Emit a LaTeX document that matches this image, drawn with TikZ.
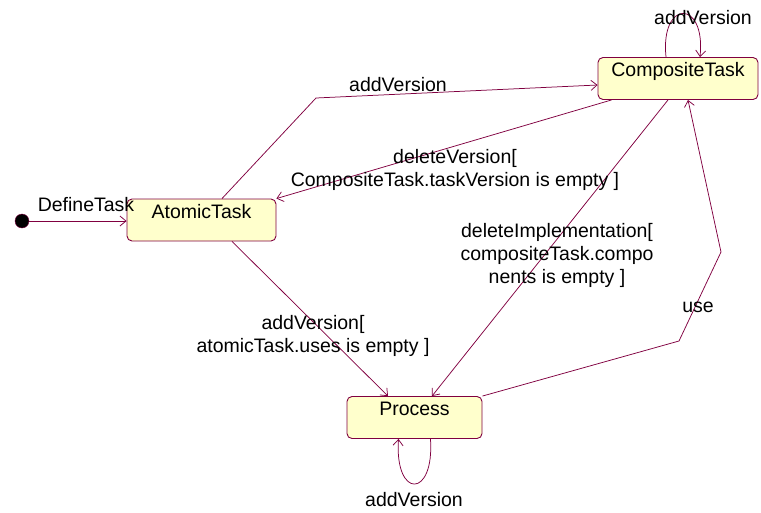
\documentclass[tikz,border=0pt]{standalone}
\usepackage{fontspec}
\setmainfont{Liberation Sans}
\usetikzlibrary{arrows.meta}
\definecolor{linecol}{RGB}{128,0,64}
\definecolor{boxfill}{RGB}{255,255,204}
\tikzset{
  statebox/.style={draw=linecol, fill=boxfill, rounded corners=5pt, line width=0.9pt,
    inner xsep=0pt, inner ysep=3pt, text height=16pt, text depth=20pt,
    font=\fontsize{19.5}{23}\selectfont},
  trans/.style={draw=linecol, line width=0.75pt, -{Straight Barb[length=6pt,width=10pt]}},
  lbl/.style={align=center, inner sep=0pt, font=\fontsize{19.5}{23}\selectfont},
}
\begin{document}
\begin{tikzpicture}[x=1pt, y=-1pt]
    \useasboundingbox (0,0) rectangle (761,512);
    % 状态
    \node[circle, fill=black, draw=linecol, minimum size=14pt, inner sep=0pt] (init) at (22,221) {};
    \node[statebox, minimum width=149pt] (atomic) at (201.5,220) {AtomicTask};
    \node[statebox, minimum width=160pt] (composite) at (678,78.5) {CompositeTask};
    \node[statebox, minimum width=135pt] (process) at (414.5,417.5) {Process};
    % 折点
    \coordinate (b1) at (316,98);
    \coordinate (u1) at (679,341);
    \coordinate (u2) at (721,252);
    % 转移
    \draw[trans] (init) -- (init -| atomic.west);
    \draw[trans] ([xshift=20.5pt]atomic.north) -- (b1) -- ([yshift=-6.5pt]composite.west);
    \draw[trans] ([xshift=14pt]composite.south west) -- (atomic.north east);
    \draw[trans] ([xshift=-12pt]composite.north) .. controls +(-6,-58) and +(6,-58) .. ([xshift=22pt]composite.north); % 自环
    \draw[trans] ([xshift=-10pt]composite.south) -- ([xshift=17.5pt]process.north);
    \draw[trans] ([xshift=30.5pt]atomic.south) -- ([xshift=-26.5pt]process.north);
    \draw[trans] (process.north east) -- (u1) -- (u2) -- ([xshift=10pt]composite.south);
    \draw[trans] ([xshift=16pt]process.south) .. controls +(4,60) and +(-4,60) .. ([xshift=-16pt]process.south); % 自环
    % 标签
    \node[lbl] (lDefine) at (86,205) {DefineTask};
    \node[lbl] (lAddTop) at (398,85) {addVersion};
    \node[lbl] (lDelVer) at (455,170) {deleteVersion[\\CompositeTask.taskVersion is empty ]};
    \node[lbl] (lAddLoop) at (703,18) {addVersion};
    \node[lbl] (lDelImpl) at (557,255) {deleteImplementation[\\compositeTask.compo\\nents is empty ]};
    \node[lbl] (lUse) at (698,307) {use};
    \node[lbl] (lAddUses) at (313,336) {addVersion[\\atomicTask.uses is empty ]};
    \node[lbl] (lAddProc) at (414,500) {addVersion};
\end{tikzpicture}
\end{document}
